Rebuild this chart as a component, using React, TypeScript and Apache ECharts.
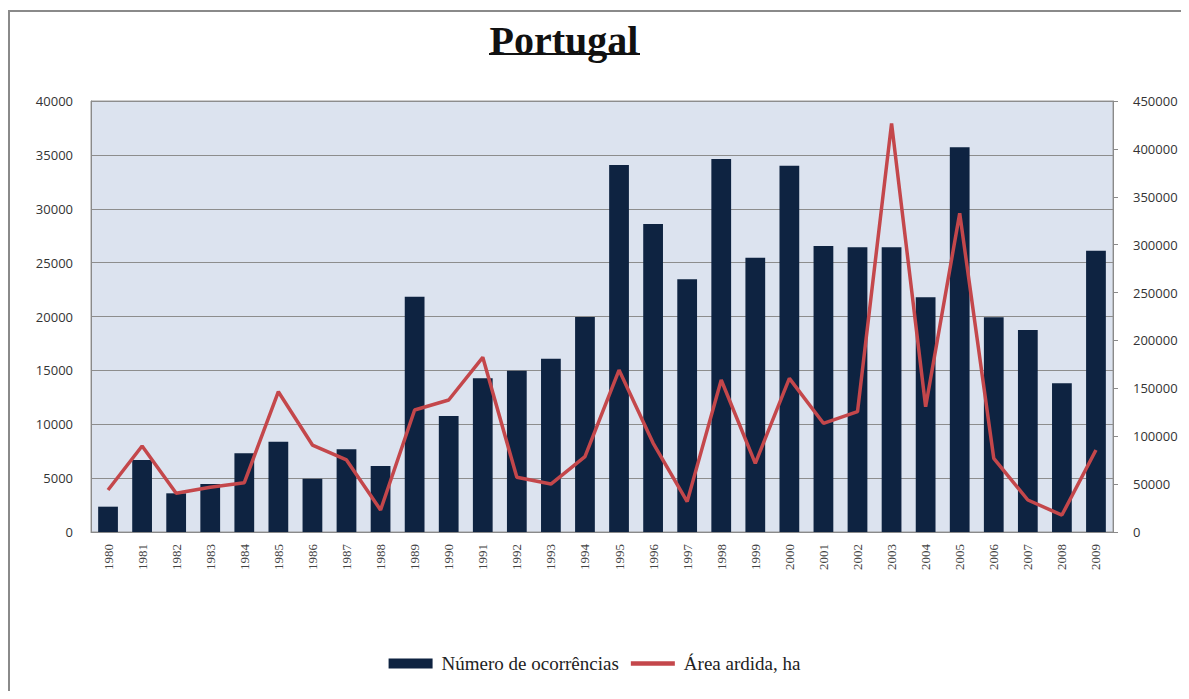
import React, { useEffect, useRef } from "react";
import * as echarts from "echarts";

const years = ["1980","1981","1982","1983","1984","1985","1986","1987","1988","1989","1990","1991","1992","1993","1994","1995","1996","1997","1998","1999","2000","2001","2002","2003","2004","2005","2006","2007","2008","2009"];
const ocorrencias = [2350,6680,3590,4450,7300,8380,4950,7670,6120,21840,10760,14260,14970,16080,19950,34060,28580,23450,34610,25450,33990,26540,26420,26420,21780,35700,19920,18750,13800,26100];
const areaArdida = [43850,89800,40400,46700,51500,146500,90800,75200,23000,127400,137800,182400,57100,50100,78600,169100,92900,31700,158700,71700,160400,113500,125600,426600,130800,332700,76900,33400,17700,85600];
const leftTicks = [0, 40000, 5000];
const rightTicks = [0, 450000, 50000];

export default function App() {
  const ref = useRef<HTMLDivElement>(null);
  useEffect(() => {
    const chart = echarts.init(ref.current!, null, { renderer: "svg" });
    const serif = "Liberation Serif";
    const sans = "Open Sans";
    chart.setOption({
      animation: false,
      backgroundColor: "#ffffff",
      graphic: [
        { type: "line", shape: { x1: 8, y1: 11, x2: 1189, y2: 11 }, style: { stroke: "#8a8a8a", lineWidth: 2 } },
        { type: "line", shape: { x1: 9, y1: 10, x2: 9, y2: 699 }, style: { stroke: "#8a8a8a", lineWidth: 2 } },
        {
          type: "text", x: 564, y: 20,
          style: { text: "Portugal", font: "bold 40px 'Liberation Serif'", fill: "#111", textAlign: "center" },
        },
        { type: "line", shape: { x1: 489, y1: 54, x2: 640, y2: 54 }, style: { stroke: "#111", lineWidth: 2 } },
      ],
      grid: {
        left: 91, right: 76, top: 101, bottom: 167,
        show: true, backgroundColor: "#dce3ef", borderColor: "#9a9a9a", borderWidth: 1,
      },
      legend: {
        top: 649, left: "center", itemGap: 12,
        itemWidth: 44, itemHeight: 10,
        textStyle: { fontFamily: serif, fontSize: 19, color: "#222", padding: [0, 0, 0, 4] },
        data: [
          { name: "Número de ocorrências", icon: "rect" },
          { name: "Área ardida, ha", icon: "path://M0,0 L10,0 L10,1 L0,1 Z" },
        ],
      },
      xAxis: {
        type: "category", data: years,
        axisLine: { lineStyle: { color: "#8a8a8a" } },
        axisTick: { show: false },
        axisLabel: { rotate: 90, fontFamily: serif, fontSize: 13, color: "#444", margin: 12 },
      },
      yAxis: [
        {
          type: "value", min: leftTicks[0], max: leftTicks[1], interval: leftTicks[2],
          axisLine: { show: true, lineStyle: { color: "#8a8a8a" } },
          axisTick: { show: false },
          splitLine: { lineStyle: { color: "#8d8d8d", width: 1 } },
          axisLabel: { fontFamily: sans, fontSize: 13, color: "#333", margin: 18, formatter: (v: number) => String(v) },
        },
        {
          type: "value", min: rightTicks[0], max: rightTicks[1], interval: rightTicks[2],
          axisLine: { show: true, lineStyle: { color: "#8a8a8a" } },
          axisTick: { show: true, length: 5, lineStyle: { color: "#8a8a8a" } },
          splitLine: { show: false },
          axisLabel: { fontFamily: sans, fontSize: 13, color: "#333", margin: 20, formatter: (v: number) => String(v) },
        },
      ],
      series: [
        {
          name: "Número de ocorrências", type: "bar", data: ocorrencias,
          barWidth: "58%", itemStyle: { color: "#0e2341" }, yAxisIndex: 0,
        },
        {
          name: "Área ardida, ha", type: "line", data: areaArdida, yAxisIndex: 1,
          symbol: "none", lineStyle: { color: "#c4474b", width: 3.5 }, itemStyle: { color: "#c4474b" },
        },
      ],
    });
    return () => chart.dispose();
  }, []);
  return <div ref={ref} style={{ width: 1189, height: 699, margin: -8 }} />;
}
